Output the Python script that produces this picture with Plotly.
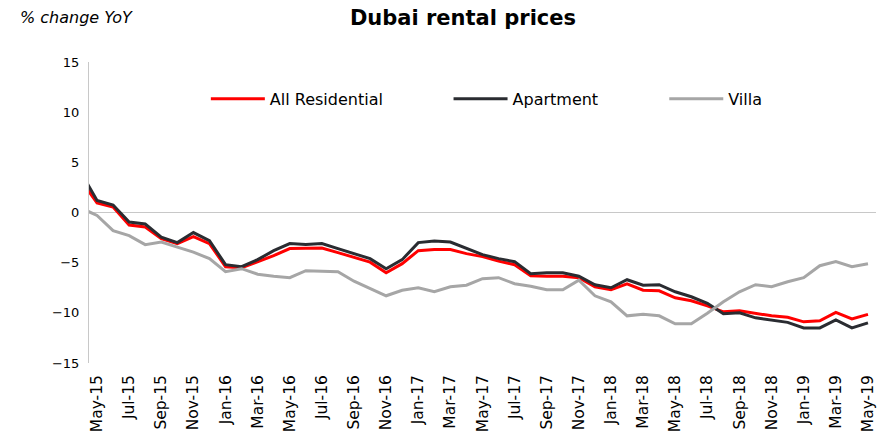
import plotly.graph_objects as go

# Monthly labels (Apr-15 is only partly visible: clipped at the left edge)
months = ["Apr-15", "May-15", "Jun-15", "Jul-15", "Aug-15", "Sep-15", "Oct-15", "Nov-15", "Dec-15",
          "Jan-16", "Feb-16", "Mar-16", "Apr-16", "May-16", "Jun-16", "Jul-16", "Aug-16", "Sep-16",
          "Oct-16", "Nov-16", "Dec-16", "Jan-17", "Feb-17", "Mar-17", "Apr-17", "May-17", "Jun-17",
          "Jul-17", "Aug-17", "Sep-17", "Oct-17", "Nov-17", "Dec-17", "Jan-18", "Feb-18", "Mar-18",
          "Apr-18", "May-18", "Jun-18", "Jul-18", "Aug-18", "Sep-18", "Oct-18", "Nov-18", "Dec-18",
          "Jan-19", "Feb-19", "Mar-19", "Apr-19", "May-19"]

all_residential = [3.2, 0.95, 0.55, -1.25, -1.45, -2.6, -3.1, -2.4, -3.1,
                   -5.4, -5.5, -4.9, -4.3, -3.6, -3.6, -3.55, -4.0, -4.5,
                   -4.95, -6.0, -5.1, -3.8, -3.7, -3.7, -4.1, -4.4, -4.85,
                   -5.2, -6.3, -6.35, -6.35, -6.5, -7.4, -7.7, -7.1, -7.75,
                   -7.8, -8.5, -8.8, -9.3, -9.9, -9.8, -10.05, -10.3, -10.45,
                   -10.9, -10.8, -9.95, -10.6, -10.15]

apartment = [4.0, 1.2, 0.75, -0.95, -1.15, -2.45, -3.0, -2.0, -2.8,
             -5.2, -5.4, -4.7, -3.8, -3.1, -3.2, -3.1, -3.6, -4.1,
             -4.6, -5.6, -4.7, -3.0, -2.85, -2.95, -3.6, -4.2, -4.6,
             -4.9, -6.1, -6.0, -6.0, -6.35, -7.2, -7.5, -6.7, -7.25,
             -7.2, -7.9, -8.4, -9.05, -10.1, -10.0, -10.5, -10.7, -10.95,
             -11.5, -11.5, -10.7, -11.5, -11.0]

villa = [0.45, -0.3, -1.8, -2.3, -3.2, -2.95, -3.45, -3.95, -4.6,
         -5.9, -5.6, -6.15, -6.35, -6.5, -5.8, -5.85, -5.9, -6.85,
         -7.6, -8.3, -7.75, -7.5, -7.9, -7.4, -7.25, -6.6, -6.5,
         -7.1, -7.35, -7.7, -7.7, -6.75, -8.3, -8.9, -10.3, -10.15,
         -10.3, -11.1, -11.1, -10.05, -8.9, -7.9, -7.2, -7.4, -6.9,
         -6.5, -5.3, -4.9, -5.4, -5.1]

tick_labels = months[1::2]
y_ticks = [15, 10, 5, 0, -5, -10, -15]

FONT = "DejaVu Sans, Verdana, sans-serif"

x_idx = list(range(-1, len(months) - 1))
tick_pos = x_idx[1::2]

fig = go.Figure()
fig.add_trace(go.Scatter(x=x_idx, y=all_residential, mode="lines", name="All Residential",
                         line=dict(color="#ff0000", width=3), legend="legend"))
fig.add_trace(go.Scatter(x=x_idx, y=apartment, mode="lines", name="Apartment",
                         line=dict(color="#2a2c31", width=3), legend="legend2"))
fig.add_trace(go.Scatter(x=x_idx, y=villa, mode="lines", name="Villa",
                         line=dict(color="#a6a6a6", width=3), legend="legend3"))

W, H = 881, 436
L, T = 89, 62
R = W - 877
B = H - 365
pw = W - L - R
ph = H - T - B

def px_x(p):
    return (p - L) / pw

def px_y(p):
    return (H - B - p) / ph

leg_common = dict(orientation="h", xanchor="left", yanchor="middle", itemwidth=54,
                  font=dict(family=FONT, size=16, color="#000000"),
                  bgcolor="rgba(0,0,0,0)", borderwidth=0)

fig.update_layout(
    width=W, height=H,
    margin=dict(l=L, r=R, t=T, b=B),
    paper_bgcolor="white", plot_bgcolor="white",
    font=dict(family=FONT, color="#000000"),
    title=dict(text="<b>Dubai rental prices</b>", x=463 / W, xanchor="center",
               xref="container", y=1 - 18 / H, yref="container", yanchor="middle",
               font=dict(family=FONT, size=21, color="#000000")),
    legend=dict(x=px_x(206), y=px_y(99), **leg_common),
    legend2=dict(x=px_x(449), y=px_y(99), **leg_common),
    legend3=dict(x=px_x(665), y=px_y(99), **leg_common),
    xaxis=dict(range=[-0.5, len(months) - 1.5], tickvals=tick_pos, ticktext=tick_labels,
               tickangle=-90, showgrid=False, zeroline=False, showline=False, ticks="",
               ticklabelstandoff=8,
               tickfont=dict(family=FONT, size=15.5, color="#000000")),
    yaxis=dict(range=[-15, 15], tickvals=y_ticks, showgrid=False, zeroline=True,
               zerolinecolor="#c8c8c8", zerolinewidth=1, showline=True, linecolor="#c8c8c8",
               linewidth=1, ticks="", ticklabelstandoff=6,
               tickfont=dict(family=FONT, size=13, color="#000000")),
    annotations=[dict(text="<i>% change YoY</i>", xref="paper", yref="paper",
                      x=px_x(18), y=px_y(17), xanchor="left", yanchor="middle",
                      showarrow=False, font=dict(family=FONT, size=16, color="#000000"))],
    showlegend=True,
)

fig.write_html("out.html", config={"displayModeBar": False},
               post_script="document.body.style.margin='0';document.body.style.overflow='hidden';")
